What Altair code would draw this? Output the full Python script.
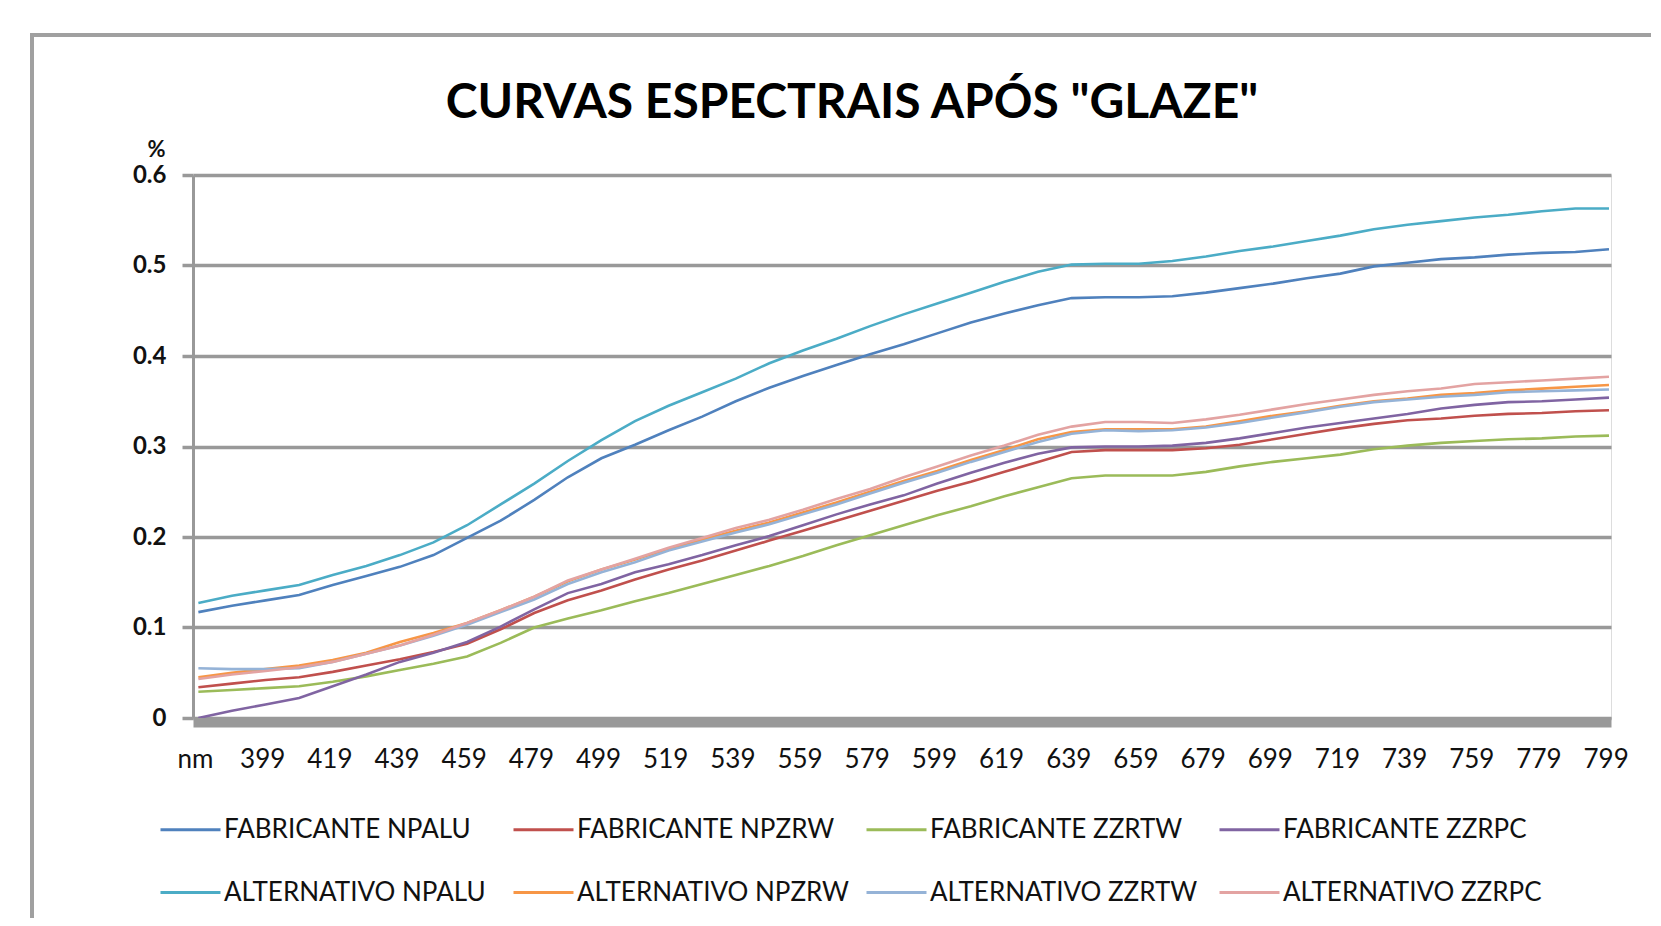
import altair as alt
import pandas as pd

nm = list(range(380, 801, 10))

series_names = [
    "FABRICANTE NPALU", "FABRICANTE NPZRW", "FABRICANTE ZZRTW", "FABRICANTE ZZRPC",
    "ALTERNATIVO NPALU", "ALTERNATIVO NPZRW", "ALTERNATIVO ZZRTW", "ALTERNATIVO ZZRPC",
]
series_colors = ["#4F81BD", "#C0504D", "#9BBB59", "#8064A2",
                 "#4BACC6", "#F79646", "#95B3D7", "#E3A3A2"]

fab_npalu = [0.117, 0.124, 0.130, 0.136, 0.147, 0.157, 0.167, 0.180, 0.199, 0.218,
             0.241, 0.266, 0.287, 0.302, 0.318, 0.333, 0.350, 0.365, 0.378, 0.390,
             0.402, 0.413, 0.425, 0.437, 0.447, 0.456, 0.464, 0.465, 0.465, 0.466,
             0.470, 0.475, 0.480, 0.486, 0.491, 0.499, 0.503, 0.507, 0.509, 0.512,
             0.514, 0.515, 0.518]
fab_npzrw = [0.034, 0.038, 0.042, 0.045, 0.051, 0.058, 0.065, 0.073, 0.082, 0.098,
             0.116, 0.130, 0.141, 0.153, 0.164, 0.174, 0.185, 0.196, 0.207, 0.218,
             0.229, 0.240, 0.251, 0.261, 0.272, 0.283, 0.294, 0.296, 0.296, 0.296,
             0.298, 0.302, 0.308, 0.314, 0.320, 0.325, 0.329, 0.331, 0.334, 0.336,
             0.337, 0.339, 0.340]
fab_zzrtw = [0.029, 0.031, 0.033, 0.035, 0.040, 0.046, 0.053, 0.060, 0.068, 0.083,
             0.100, 0.110, 0.119, 0.129, 0.138, 0.148, 0.158, 0.168, 0.179, 0.191,
             0.202, 0.213, 0.224, 0.234, 0.245, 0.255, 0.265, 0.268, 0.268, 0.268,
             0.272, 0.278, 0.283, 0.287, 0.291, 0.297, 0.301, 0.304, 0.306, 0.308,
             0.309, 0.311, 0.312]
fab_zzrpc = [0.000, 0.008, 0.015, 0.022, 0.035, 0.048, 0.062, 0.072, 0.084, 0.101,
             0.120, 0.138, 0.148, 0.161, 0.170, 0.180, 0.191, 0.201, 0.213, 0.225,
             0.236, 0.246, 0.259, 0.271, 0.282, 0.292, 0.299, 0.300, 0.300, 0.301,
             0.304, 0.309, 0.315, 0.321, 0.326, 0.331, 0.336, 0.342, 0.346, 0.349,
             0.350, 0.352, 0.354]
alt_npalu = [0.127, 0.135, 0.141, 0.147, 0.158, 0.168, 0.180, 0.194, 0.213, 0.236,
             0.259, 0.284, 0.307, 0.328, 0.345, 0.360, 0.375, 0.392, 0.406, 0.419,
             0.433, 0.446, 0.458, 0.470, 0.482, 0.493, 0.501, 0.502, 0.502, 0.505,
             0.510, 0.516, 0.521, 0.527, 0.533, 0.540, 0.545, 0.549, 0.553, 0.556,
             0.560, 0.563, 0.563]
alt_npzrw = [0.045, 0.050, 0.054, 0.058, 0.064, 0.072, 0.084, 0.094, 0.105, 0.119,
             0.134, 0.151, 0.164, 0.175, 0.187, 0.197, 0.207, 0.216, 0.227, 0.238,
             0.250, 0.262, 0.273, 0.285, 0.296, 0.308, 0.316, 0.319, 0.319, 0.319,
             0.322, 0.328, 0.334, 0.339, 0.345, 0.350, 0.353, 0.357, 0.359, 0.362,
             0.364, 0.366, 0.368]
alt_zzrtw = [0.055, 0.054, 0.054, 0.055, 0.062, 0.071, 0.080, 0.091, 0.103, 0.117,
             0.131, 0.148, 0.161, 0.172, 0.185, 0.195, 0.205, 0.214, 0.225, 0.236,
             0.248, 0.260, 0.271, 0.283, 0.294, 0.305, 0.314, 0.318, 0.317, 0.318,
             0.321, 0.326, 0.332, 0.338, 0.344, 0.349, 0.352, 0.355, 0.357, 0.360,
             0.361, 0.362, 0.363]
alt_zzrpc = [0.043, 0.048, 0.052, 0.056, 0.062, 0.071, 0.080, 0.092, 0.105, 0.119,
             0.134, 0.152, 0.164, 0.176, 0.188, 0.199, 0.210, 0.219, 0.230, 0.242,
             0.253, 0.266, 0.278, 0.290, 0.301, 0.313, 0.322, 0.327, 0.327, 0.326,
             0.330, 0.335, 0.341, 0.347, 0.352, 0.357, 0.361, 0.364, 0.369, 0.371,
             0.373, 0.375, 0.377]

all_series = [fab_npalu, fab_npzrw, fab_zzrtw, fab_zzrpc,
              alt_npalu, alt_npzrw, alt_zzrtw, alt_zzrpc]

x_tick_values = [379] + list(range(399, 800, 20))
y_tick_values = [0, 0.1, 0.2, 0.3, 0.4, 0.5, 0.6]

rows = []
for i, (name, vals) in enumerate(zip(series_names, all_series)):
    for w, v in zip(nm, vals):
        rows.append({"nm": w, "valor": v, "serie": name, "ordem": i})
df = pd.DataFrame(rows)

FONT = "Lato"
GRID = "#999999"

W, H = 1418, 543

lines = alt.Chart(df).mark_line(strokeWidth=2.6, clip=True).encode(
    x=alt.X("nm:Q",
            scale=alt.Scale(domain=[378.4, 800.6], nice=False, zero=False),
            axis=alt.Axis(values=x_tick_values,
                          labelExpr="datum.value == 379 ? 'nm' : datum.label",
                          title=None, grid=False, ticks=False,
                          domainColor=GRID, domainWidth=10, offset=4,
                          labelPadding=24, labelFontSize=26, labelFont=FONT,
                          labelColor="#111111", labelFlush=False, labelOverlap=False)),
    y=alt.Y("valor:Q",
            scale=alt.Scale(domain=[0, 0.6], nice=False),
            axis=alt.Axis(values=y_tick_values,
                          labelExpr="datum.value == 0 ? '0' : format(datum.value, '.1f')",
                          title="%", titleAngle=0, titleX=-37, titleY=-14,
                          titleFontSize=22, titleFont=FONT, titleColor="#111111",
                          titleFontWeight="bold",
                          grid=True, gridColor=GRID, gridWidth=3.5,
                          domainColor=GRID, domainWidth=3,
                          tickColor=GRID, tickWidth=3.5, tickSize=11,
                          labelPadding=16, labelFontSize=24, labelFont=FONT,
                          labelFontWeight="bold", labelColor="#111111")),
    color=alt.Color("serie:N",
                    scale=alt.Scale(domain=series_names, range=series_colors),
                    legend=alt.Legend(orient="none", legendX=-34, legendY=623,
                                      columns=4, direction="horizontal",
                                      title=None, symbolType="stroke",
                                      symbolSize=3600, symbolStrokeWidth=3,
                                      labelFont=FONT, labelFontSize=26,
                                      labelColor="#111111", labelOffset=2,
                                      labelLimit=400, gridAlign="all",
                                      columnPadding=10, rowPadding=18,
                                      padding=0)),
    detail="ordem:O",
)

frame_df = pd.DataFrame({"k": [0]})
frame_left = alt.Chart(frame_df).mark_rule(color="#A0A0A0", strokeWidth=4).encode(
    x=alt.value(-161), y=alt.value(-140), y2=alt.value(760))
frame_top = alt.Chart(frame_df).mark_rule(color="#A0A0A0", strokeWidth=4).encode(
    x=alt.value(-163), x2=alt.value(1470), y=alt.value(-140))

chart = alt.layer(frame_left, frame_top, lines).properties(
    width=W, height=H,
    title=alt.TitleParams("CURVAS ESPECTRAIS APÓS \"GLAZE\"", font=FONT,
                          fontSize=48, fontWeight="bold", color="#000000",
                          anchor="middle", dx=-50, offset=0, dy=133,
                          baseline="alphabetic"),
    autosize=alt.AutoSizeParams(type="none"),
    padding={"left": 185, "top": 167, "right": 40, "bottom": 200},
).configure_view(stroke=None).configure(background="white")

chart.save("out.html", embed_options={"renderer": "svg", "actions": False})
